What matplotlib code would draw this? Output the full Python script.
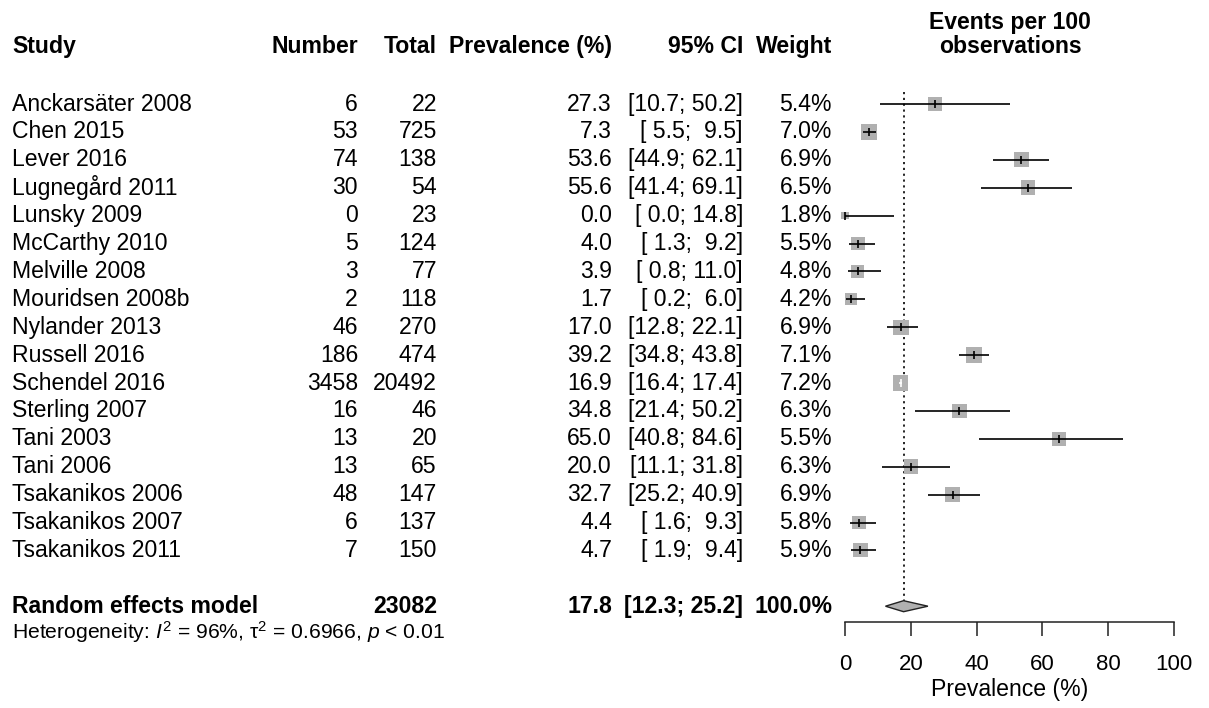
import matplotlib
matplotlib.use("Agg")
import matplotlib.pyplot as plt
from matplotlib.patches import Polygon
import numpy as np

plt.rcParams['font.family'] = ['Liberation Sans', 'DejaVu Sans']
plt.rcParams['mathtext.fontset'] = 'custom'
plt.rcParams['mathtext.rm'] = 'Liberation Sans'
plt.rcParams['mathtext.it'] = 'Liberation Sans:italic'
plt.rcParams['mathtext.bf'] = 'Liberation Sans:bold'

# ---------------- data ----------------
studies = ["Anckarsäter 2008", "Chen 2015", "Lever 2016", "Lugnegård 2011",
           "Lunsky 2009", "McCarthy 2010", "Melville 2008", "Mouridsen 2008b",
           "Nylander 2013", "Russell 2016", "Schendel 2016", "Sterling 2007",
           "Tani 2003", "Tani 2006", "Tsakanikos 2006", "Tsakanikos 2007",
           "Tsakanikos 2011"]
events = [6, 53, 74, 30, 0, 5, 3, 2, 46, 186, 3458, 16, 13, 13, 48, 6, 7]
totals = [22, 725, 138, 54, 23, 124, 77, 118, 270, 474, 20492, 46, 20, 65, 147, 137, 150]
prevalence = [27.3, 7.3, 53.6, 55.6, 0.0, 4.0, 3.9, 1.7, 17.0, 39.2, 16.9, 34.8,
              65.0, 20.0, 32.7, 4.4, 4.7]
ci_lower = [10.7, 5.5, 44.9, 41.4, 0.0, 1.3, 0.8, 0.2, 12.8, 34.8, 16.4, 21.4,
            40.8, 11.1, 25.2, 1.6, 1.9]
ci_upper = [50.2, 9.5, 62.1, 69.1, 14.8, 9.2, 11.0, 6.0, 22.1, 43.8, 17.4, 50.2,
            84.6, 31.8, 40.9, 9.3, 9.4]
weights = [5.4, 7.0, 6.9, 6.5, 1.8, 5.5, 4.8, 4.2, 6.9, 7.1, 7.2, 6.3, 5.5, 6.3,
           6.9, 5.8, 5.9]

pooled_label = "Random effects model"
pooled_total = 23082
pooled_est = 17.8
pooled_lo = 12.3
pooled_hi = 25.2
pooled_weight = 100.0
heterogeneity = r"Heterogeneity: $\mathit{I}^2$ = 96%, τ$^2$ = 0.6966, $\mathit{p}$ < 0.01"

col_headers = ["Study", "Number", "Total", "Prevalence (%)", "95% CI", "Weight"]
xticks = [0, 20, 40, 60, 80, 100]
xlabel = "Prevalence (%)"
plot_title = ["Events per 100", "observations"]

# ---------------- layout ----------------
W, H = 1209, 708
fig = plt.figure(figsize=(W / 100, H / 100), dpi=100)

row0_px, row_step = 104.0, 27.9
def px2row(p):
    return (p - row0_px) / row_step
ylim = (px2row(H), px2row(0))

# overlay axes for text (x in pixels, y in rows)
tax = fig.add_axes([0, 0, 1, 1])
tax.set_xlim(0, W)
tax.set_ylim(*ylim)
tax.axis('off')

# forest axes
x0_px, x1_px = 845, 1174
fax = fig.add_axes([x0_px / W, 0, (x1_px - x0_px) / W, 1])
fax.set_xlim(0, 100)
fax.set_ylim(*ylim)
fax.patch.set_alpha(0)
for s in ['top', 'right', 'left']:
    fax.spines[s].set_visible(False)
fax.spines['bottom'].set_position(('data', px2row(622)))
fax.spines['bottom'].set_linewidth(1.1)
fax.spines['bottom'].set_color('#222222')
fax.set_yticks([])
fax.set_xticks(xticks)
fax.set_xticklabels([str(t) for t in xticks], fontsize=16)
fax.tick_params(axis='x', direction='out', length=10, width=1.1, pad=13, color='#222222')

fs = 16.6
hx = {"Study": 12, "Number": 358, "Total": 437, "Prevalence (%)": 612,
      "95% CI": 743, "Weight": 832}
hr = px2row(46)
for h in col_headers:
    ha = 'left' if h == "Study" else 'right'
    tax.text(hx[h], hr, h, ha=ha, va='center', fontsize=fs, fontweight='bold')
tax.text(1010, px2row(22), plot_title[0], ha='center', va='center', fontsize=fs, fontweight='bold')
tax.text(1010, px2row(46), plot_title[1], ha='center', va='center', fontsize=fs, fontweight='bold')

def ci_str(lo, hi):
    return f"[{lo:4.1f}; {hi:4.1f}]"

for i, name in enumerate(studies):
    tax.text(hx["Study"], i, name, ha='left', va='center', fontsize=fs)
    tax.text(hx["Number"], i, str(events[i]), ha='right', va='center', fontsize=fs)
    tax.text(hx["Total"], i, str(totals[i]), ha='right', va='center', fontsize=fs)
    tax.text(hx["Prevalence (%)"], i, f"{prevalence[i]:.1f}", ha='right', va='center', fontsize=fs)
    tax.text(hx["95% CI"], i, ci_str(ci_lower[i], ci_upper[i]), ha='right', va='center', fontsize=fs)
    tax.text(hx["Weight"], i, f"{weights[i]:.1f}%", ha='right', va='center', fontsize=fs)

pr = len(studies) + 1
tax.text(hx["Study"], pr, pooled_label, ha='left', va='center', fontsize=fs, fontweight='bold')
tax.text(hx["Total"], pr, str(pooled_total), ha='right', va='center', fontsize=fs, fontweight='bold')
tax.text(hx["Prevalence (%)"], pr, f"{pooled_est:.1f}", ha='right', va='center', fontsize=fs, fontweight='bold')
tax.text(hx["95% CI"], pr, ci_str(pooled_lo, pooled_hi), ha='right', va='center', fontsize=fs, fontweight='bold')
tax.text(hx["Weight"], pr, f"{pooled_weight:.1f}%", ha='right', va='center', fontsize=fs, fontweight='bold')
tax.text(hx["Study"], px2row(632), heterogeneity, ha='left', va='center', fontsize=15.2)

tax.text(1010, px2row(689), xlabel, ha='center', va='center', fontsize=fs)

# ---------------- forest marks ----------------
box_color = '#b0b0b0'
max_side_pt = 11.2
wmax = max(weights)
rows = np.arange(len(studies))
sizes = [(max_side_pt * np.sqrt(w / wmax)) ** 2 for w in weights]
fax.scatter(prevalence, rows, s=sizes, marker='s', color=box_color,
            edgecolors='none', zorder=2, clip_on=False)
for i in rows:
    side_pt = max_side_pt * np.sqrt(weights[i] / wmax)
    half = side_pt / 72 * 100 / (x1_px - x0_px) * 100 / 2
    inside = (ci_upper[i] - ci_lower[i]) < 0.6 * 2 * half
    c = 'white' if inside else 'black'
    fax.plot([ci_lower[i], ci_upper[i]], [i, i], color=c, lw=1.2, zorder=3,
             solid_capstyle='butt', clip_on=False)
    fax.plot([prevalence[i]], [i], marker='|', markersize=5.5, mew=1.2, color=c,
             zorder=4, clip_on=False)

fax.plot([pooled_est, pooled_est], [px2row(92), pr - 0.2], color='black', lw=1.2,
         linestyle=(0, (1.3, 2.2)), zorder=1)

dh = 5.5 / row_step
diamond = Polygon([(pooled_lo, pr), (pooled_est, pr - dh), (pooled_hi, pr),
                   (pooled_est, pr + dh)], closed=True, facecolor=box_color,
                  edgecolor='#222222', lw=1.0, zorder=3)
fax.add_patch(diamond)

fig.savefig("out.png", dpi=100)
